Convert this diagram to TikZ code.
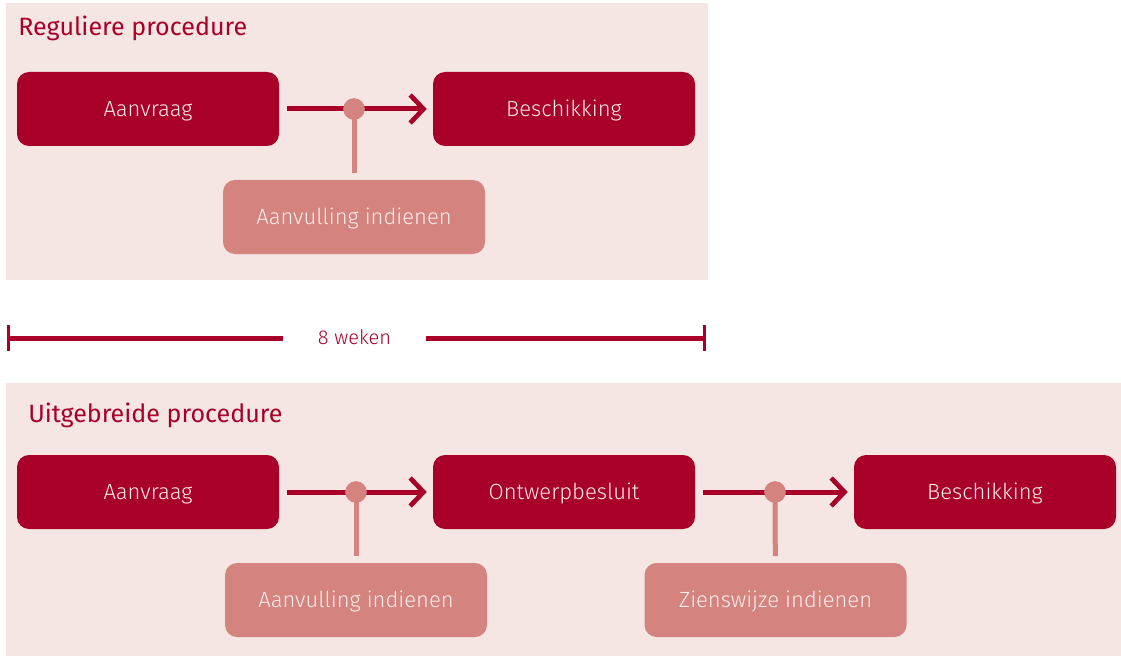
\documentclass[tikz,border=0pt]{standalone}
\usepackage{fontspec}
\setmainfont{Fira Sans}[UprightFont={* Light}]
\newfontfamily\titlefont{Fira Sans}
\usetikzlibrary{arrows.meta}
\definecolor{crim}{HTML}{A90029}
\definecolor{salm}{HTML}{D4837E}
\definecolor{panel}{HTML}{F5E6E3}
\definecolor{ltxt}{HTML}{FBEDEA}
\tikzset{
  mainbox/.style={fill=crim, rounded corners=9pt, minimum width=196.5pt, minimum height=55.5pt, inner sep=0pt, text=ltxt, font=\fontsize{16.5}{19}\selectfont, text height=10.8pt, text depth=0pt},
  subbox/.style={mainbox, fill=salm},
  arr/.style={draw=crim, line width=3.75pt, -{Straight Barb[length=10pt,width=21pt,line width=3.5pt]}, shorten <=6pt, shorten >=4.5pt},
  stem/.style={draw=salm, line width=3.75pt, shorten >=5pt},
  dot/.style={circle, fill=salm, minimum size=16pt, inner sep=0pt},
  paneltitle/.style={anchor=base west, text=crim, font=\titlefont\fontsize{18.8}{22}\selectfont, inner sep=0pt},
  bar/.style={draw=crim, line width=3.75pt}
}
\begin{document}
\begin{tikzpicture}[x=0.75pt,y=-0.75pt]
\useasboundingbox (0,0) rectangle (1121,656);
% panels
\fill[panel] (6,3) rectangle (708,280);
\fill[panel] (6,383) rectangle (1121,656);
\node[paneltitle] (t1) at (18,36) {Reguliere procedure};
\node[paneltitle] (t2) at (28,422) {Uitgebreide procedure};
% top
\node[mainbox] (a1) at (148,109) {Aanvraag};
\node[mainbox] (b1) at (564,109) {Beschikking};
\node[subbox] (s1) at (354,217) {Aanvulling indienen};
\draw[arr] (a1) -- (b1);
\node[dot] (d1) at (354,109) {};
\draw[stem] (d1.center) -- (s1);
\node[dot] at (354,109) {};
% measure
\coordinate (m1) at (7,338);
\coordinate (m2) at (706,338);
\node[inner sep=0pt, minimum width=107pt, text height=10pt, text depth=0pt, text=crim, font=\fontsize{15}{18}\selectfont] (lbl) at (354.5,338) {8 weken};
\draw[bar, {Bar[width=19.5pt,line width=2.5pt]}-] (m1) -- (lbl.west);
\draw[bar, -{Bar[width=19.5pt,line width=2.5pt]}] (lbl.east) -- (m2);
% bottom
\node[mainbox] (a2) at (148,492) {Aanvraag};
\node[mainbox] (o2) at (564,492) {Ontwerpbesluit};
\node[mainbox] (b2) at (985,492) {Beschikking};
\node[subbox] (s2) at (356,600) {Aanvulling indienen};
\node[subbox] (z2) at (775.5,600) {Zienswijze indienen};
\draw[arr] (a2) -- (o2);
\draw[arr] (o2) -- (b2);
\node[dot] (d2) at (356,492) {};
\node[dot] (d3) at (775,492) {};
\draw[stem] (d2.center) -- (s2);
\draw[stem] (d3.center) -- (z2);
\node[dot] at (356,492) {};
\node[dot] at (775,492) {};
\end{tikzpicture}
\end{document}
